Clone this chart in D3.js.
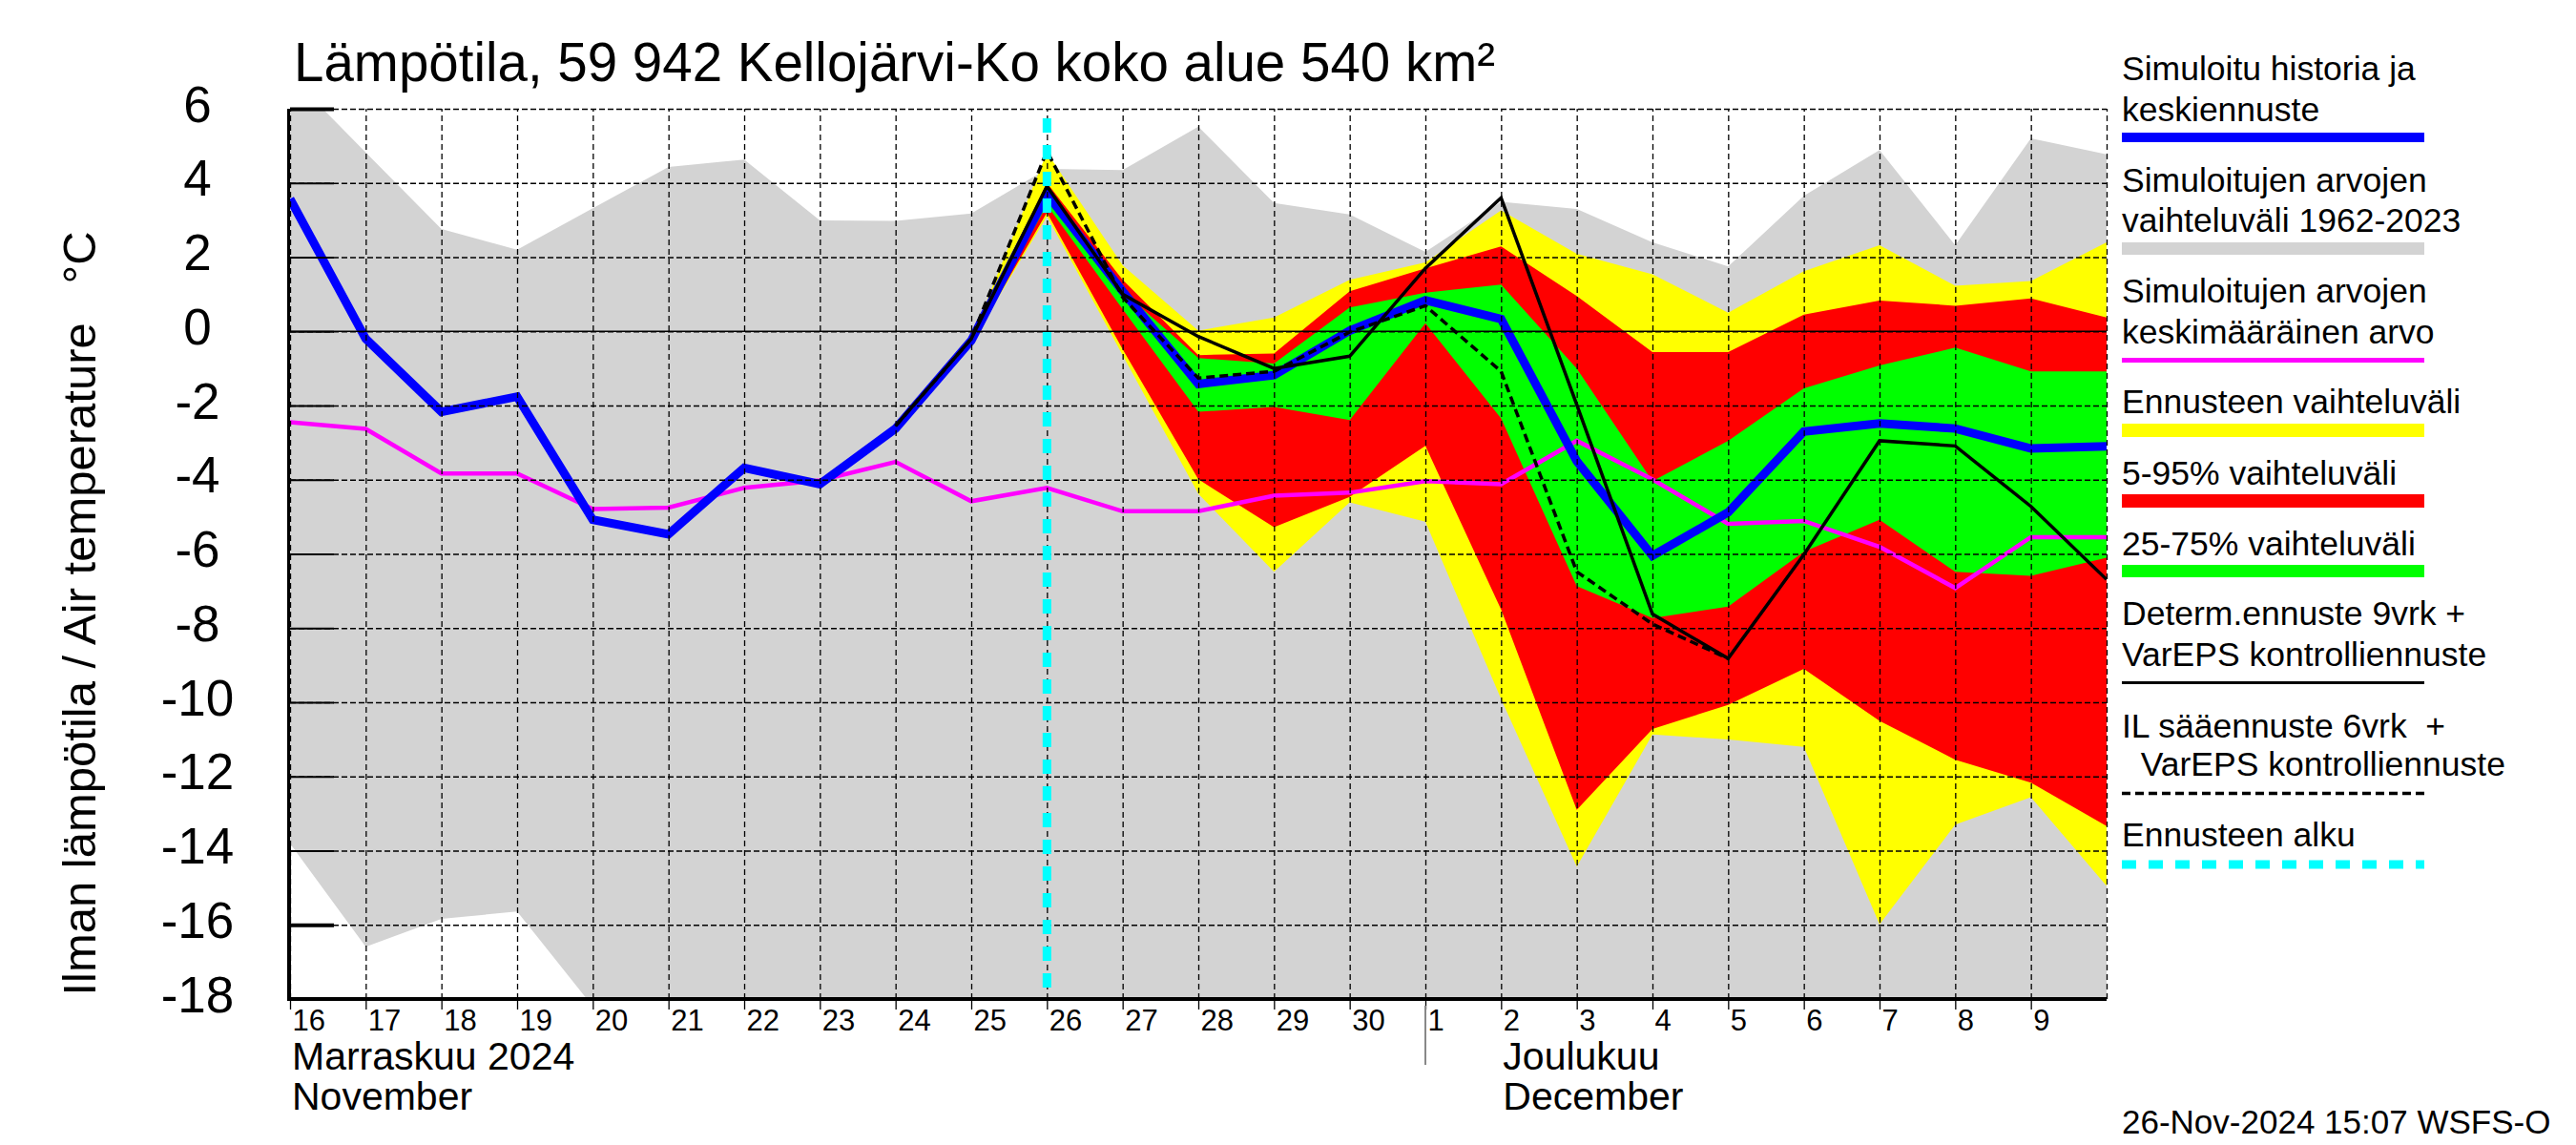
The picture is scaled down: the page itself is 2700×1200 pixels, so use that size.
<!DOCTYPE html>
<html>
<head>
<meta charset="utf-8">
<script src="https://cdn.jsdelivr.net/npm/d3@7"></script>
<style>
  body { margin: 0; background: #fff; }
  text { font-family: "Liberation Sans", Arial, sans-serif; fill: #000; }
</style>
</head>
<body>
<svg id="chart" width="2700" height="1200"></svg>
<script>
// days: 16 Nov .. 10 Dec 2024 (history + mean + climatology)
const day = s => new Date(s + 'T00:00:00Z');
const allDays = d3.utcDay.range(day('2024-11-16'), day('2024-12-11'));
const fcDays  = d3.utcDay.range(day('2024-11-25'), day('2024-12-11'));
const detDays = d3.utcDay.range(day('2024-11-24'), day('2024-12-11'));
const ilDays  = d3.utcDay.range(day('2024-11-24'), day('2024-12-06'));

// simulated range 1962-2023
const grayMax = [6.9, 4.82, 2.76, 2.2, 3.32, 4.43, 4.63, 2.99, 2.98, 3.18, 4.38, 4.35, 5.52,
                 3.46, 3.15, 2.14, 3.49, 3.3, 2.4, 1.75, 3.65, 4.89, 2.32, 5.2, 4.77];
const grayMin = [-13.81, -16.59, -15.84, -15.64, -18.2, -18.5, -18.5, -18.5, -18.5, -18.5,
                 -18.5, -18.5, -18.5, -18.5, -18.5, -18.5, -18.5, -18.5, -18.5, -18.5,
                 -18.5, -18.5, -18.5, -18.5, -18.5];
// mean of simulated values
const meanT = [-2.45, -2.63, -3.83, -3.83, -4.79, -4.75, -4.22, -4.02, -3.52, -4.58, -4.22,
               -4.85, -4.85, -4.43, -4.35, -4.04, -4.12, -2.95, -3.99, -5.19, -5.11, -5.81,
               -6.92, -5.55, -5.55];
// simulated history + median forecast
const simT = [3.57, -0.2, -2.17, -1.76, -5.08, -5.47, -3.68, -4.12, -2.62, -0.25, 3.7,
              1.08, -1.42, -1.18, 0.02, 0.84, 0.33, -3.5, -6.05, -4.88, -2.7, -2.48,
              -2.62, -3.16, -3.1];

// forecast ranges, 25 Nov .. 10 Dec
const yelMax = [-0.2, 4.82, 1.78, 0.02, 0.37, 1.39, 1.86, 3.26, 2.09, 1.54, 0.5, 1.62, 2.32, 1.23, 1.36, 2.4];
const redMax = [-0.25, 4.0, 1.39, -0.64, -0.6, 1.08, 1.7, 2.29, 0.95, -0.56, -0.56, 0.45, 0.83, 0.69, 0.89, 0.37];
const grnMax = [-0.25, 3.9, 1.08, -0.72, -0.87, 0.64, 1.04, 1.26, -1.0, -4.04, -2.95, -1.54, -0.92, -0.44, -1.08, -1.08];
const grnMin = [-0.25, 3.4, 0.6, -2.17, -2.04, -2.39, 0.22, -2.35, -6.87, -7.73, -7.42, -5.94, -5.08, -6.48, -6.59, -6.1];
const redMin = [-0.3, 3.2, -0.48, -3.99, -5.28, -4.46, -3.09, -7.5, -12.9, -10.72, -10.07, -9.1, -10.5, -11.55, -12.17, -13.34];
const yelMin = [-0.3, 3.1, -0.64, -4.38, -6.48, -4.61, -5.13, -9.91, -14.43, -10.87, -11.0, -11.2, -15.99, -13.3, -12.56, -14.95];

// deterministic 9 d + VarEPS control, 24 Nov .. 10 Dec
const detT = [-2.55, -0.2, 3.91, 1.0, -0.14, -1.0, -0.67, 1.7, 3.6, -1.98, -7.62, -8.82, -6.02, -2.95, -3.09, -4.72, -6.69];
// IL weather forecast 6 d + VarEPS control, 24 Nov .. 5 Dec
const ilT = [-2.55, -0.2, 4.86, 0.92, -1.26, -1.08, -0.02, 0.69, -1.08, -6.48, -7.89, -8.82];

const yTicks = [6, 4, 2, 0, -2, -4, -6, -8, -10, -12, -14, -16, -18];
const fcStart = day('2024-11-26');

const legendItems = [
  { lines: ['Simuloitu historia ja', 'keskiennuste'], color: '#0000ff', w: 10 },
  { lines: ['Simuloitujen arvojen', 'vaihteluväli 1962-2023'], color: '#d3d3d3', w: 13 },
  { lines: ['Simuloitujen arvojen', 'keskimääräinen arvo'], color: '#ff00ff', w: 5 },
  { lines: ['Ennusteen vaihteluväli'], color: '#ffff00', w: 14 },
  { lines: ['5-95% vaihteluväli'], color: '#ff0000', w: 14 },
  { lines: ['25-75% vaihteluväli'], color: '#00ff00', w: 13 },
  { lines: ['Determ.ennuste 9vrk +', 'VarEPS kontrolliennuste'], color: '#000', w: 3 },
  { lines: ['IL sääennuste 6vrk  +', '  VarEPS kontrolliennuste'], color: '#000', w: 3.5, dash: '9,5' },
  { lines: ['Ennusteen alku'], color: '#00ffff', w: 9, dash: '15,13' }
];
const legendBase = [[84, 127], [201, 243], [317, 360], [433], [508], [582], [655, 698], [773, 813], [887]];
const legendSym = [144, 260.5, 377.5, 451, 525, 598.5, 715.5, 831.5, 906];

// ---- layout
const x0 = 304, x1 = 2208, yTop = 114, yBot = 1047;
const svg = d3.select('#chart');

const x = d3.scaleUtc().domain([day('2024-11-16'), day('2024-12-10')]).range([x0, x1]);
const y = d3.scaleLinear().domain([-18, 6]).range([yBot, yTop]);

svg.append('defs').append('clipPath').attr('id', 'plotclip')
  .append('rect').attr('x', x0).attr('y', yTop).attr('width', x1 - x0).attr('height', yBot - yTop);

// left axis line underneath the fills
svg.append('line').attr('x1', x0 - 1).attr('x2', x0 - 1).attr('y1', yTop).attr('y2', yBot)
  .attr('stroke', '#000').attr('stroke-width', 4);

const plot = svg.append('g').attr('clip-path', 'url(#plotclip)');

const area = d3.area().x(d => x(d.t)).y0(d => y(d.lo)).y1(d => y(d.hi));
const band = (days, lo, hi) => days.map((t, i) => ({ t: t, lo: lo[i], hi: hi[i] }));

plot.append('path').attr('d', area(band(allDays, grayMin, grayMax))).attr('fill', '#d3d3d3');
plot.append('path').attr('d', area(band(fcDays, yelMin, yelMax))).attr('fill', '#ffff00');
plot.append('path').attr('d', area(band(fcDays, redMin, redMax))).attr('fill', '#ff0000');
plot.append('path').attr('d', area(band(fcDays, grnMin, grnMax))).attr('fill', '#00ff00');

// grid
const vgrid = svg.append('g').attr('transform', `translate(0,${yBot})`)
  .call(d3.axisBottom(x).ticks(d3.utcDay.every(1)).tickSize(-(yBot - yTop)).tickFormat(''));
vgrid.select('.domain').remove();
vgrid.selectAll('line').attr('stroke', '#000').attr('stroke-width', 1.3).attr('stroke-dasharray', '6,4');

const hgrid = svg.append('g').attr('transform', `translate(${x0},0)`)
  .call(d3.axisLeft(y).tickValues(yTicks).tickSize(-(x1 - x0)).tickFormat(''));
hgrid.select('.domain').remove();
hgrid.selectAll('line').attr('stroke', '#000').attr('stroke-width', 1.3).attr('stroke-dasharray', '6,3');

// zero line
svg.append('line').attr('x1', x0).attr('x2', x1).attr('y1', y(0)).attr('y2', y(0))
  .attr('stroke', '#000').attr('stroke-width', 1.5);

// inner ticks on the y axis
const inTicks = svg.append('g').attr('transform', `translate(${x0},0)`)
  .call(d3.axisRight(y).tickValues(yTicks).tickSize(46).tickFormat(''));
inTicks.select('.domain').remove();
inTicks.selectAll('line').attr('stroke', '#000')
  .attr('stroke-width', d => (d === 6 || d === -16) ? 4 : 2);

// lines
const line = d3.line().x(d => x(d.t)).y(d => y(d.v));
const series = (days, vals) => days.map((t, i) => ({ t: t, v: vals[i] }));

plot.append('path').attr('d', line(series(allDays, meanT)))
  .attr('fill', 'none').attr('stroke', '#ff00ff').attr('stroke-width', 4.5);
plot.append('path').attr('d', line(series(allDays, simT)))
  .attr('fill', 'none').attr('stroke', '#0000ff').attr('stroke-width', 9);
plot.append('path').attr('d', line(series(detDays, detT)))
  .attr('fill', 'none').attr('stroke', '#000').attr('stroke-width', 3.5);
plot.append('path').attr('d', line(series(ilDays, ilT)))
  .attr('fill', 'none').attr('stroke', '#000').attr('stroke-width', 3.5).attr('stroke-dasharray', '9,5');

// forecast start
svg.append('line').attr('x1', x(fcStart)).attr('x2', x(fcStart)).attr('y1', yTop + 10).attr('y2', yBot)
  .attr('stroke', '#00ffff').attr('stroke-width', 9).attr('stroke-dasharray', '15,13');

// bottom axis line
svg.append('line').attr('x1', x0 - 3).attr('x2', x1).attr('y1', yBot).attr('y2', yBot)
  .attr('stroke', '#000').attr('stroke-width', 4);

// x axis labels
const xa = svg.append('g').attr('transform', `translate(0,${yBot})`)
  .call(d3.axisBottom(x).tickValues(allDays.slice(0, 24)).tickSize(11).tickFormat(d3.utcFormat('%-d')));
xa.select('.domain').remove();
xa.selectAll('line').attr('stroke', '#000').attr('stroke-width', 1.3);
xa.selectAll('text').attr('text-anchor', 'start').attr('x', 2).attr('y', 33).attr('dy', null)
  .style('font-size', '31px').attr('fill', '#000');

// month separator
svg.append('line').attr('x1', x(day('2024-12-01'))).attr('x2', x(day('2024-12-01')))
  .attr('y1', yBot + 7).attr('y2', 1116).attr('stroke', '#888').attr('stroke-width', 2);

// y axis labels
const ya = svg.append('g').attr('transform', `translate(${x0},0)`)
  .call(d3.axisLeft(y).tickValues(yTicks).tickSize(0).tickFormat(d3.format('d')));
ya.select('.domain').remove();
ya.selectAll('text').attr('text-anchor', 'middle').attr('x', 207 - x0).attr('dy', null).attr('y', 13)
  .text(d => String(d)).style('font-size', '53px').attr('fill', '#000');

// texts
svg.append('text').attr('x', 308).attr('y', 85).style('font-size', '58px')
  .attr('textLength', 1259).attr('lengthAdjust', 'spacingAndGlyphs')
  .text('Lämpötila, 59 942 Kellojärvi-Ko koko alue 540 km²');

svg.append('text').attr('transform', 'translate(100,643) rotate(-90)')
  .attr('text-anchor', 'middle').style('font-size', '49px').style('white-space', 'pre')
  .text('Ilman lämpötila / Air temperature   °C');

const months = [['Marraskuu 2024', 'November', day('2024-11-16')], ['Joulukuu', 'December', day('2024-12-02')]];
months.forEach(m => {
  svg.append('text').attr('x', x(m[2]) + 2).attr('y', 1121).style('font-size', '41px').text(m[0]);
  svg.append('text').attr('x', x(m[2]) + 2).attr('y', 1163).style('font-size', '41px').text(m[1]);
});

svg.append('text').attr('x', 2224).attr('y', 1188).style('font-size', '35px')
  .text('26-Nov-2024 15:07 WSFS-O');

// legend
const lg = svg.append('g');
legendItems.forEach((it, i) => {
  it.lines.forEach((s, j) => {
    lg.append('text').attr('x', 2224).attr('y', legendBase[i][j])
      .style('font-size', '35.5px').style('white-space', 'pre').text(s);
  });
  lg.append('line').attr('x1', 2224).attr('x2', 2541)
    .attr('y1', legendSym[i]).attr('y2', legendSym[i])
    .attr('stroke', it.color).attr('stroke-width', it.w)
    .attr('stroke-dasharray', it.dash || null);
});
</script>
</body>
</html>
